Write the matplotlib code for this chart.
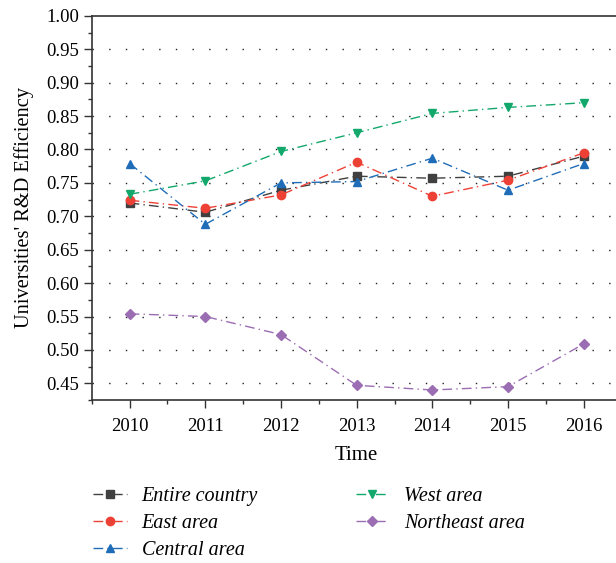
import matplotlib
matplotlib.use("Agg")
import matplotlib.pyplot as plt
from matplotlib.ticker import MultipleLocator

years = [2010, 2011, 2012, 2013, 2014, 2015, 2016]
entire = [0.720, 0.706, 0.739, 0.760, 0.757, 0.760, 0.790]
east = [0.724, 0.712, 0.732, 0.781, 0.730, 0.754, 0.795]
central = [0.779, 0.688, 0.750, 0.752, 0.787, 0.739, 0.779]
west = [0.733, 0.753, 0.797, 0.825, 0.854, 0.863, 0.870]
northeast = [0.554, 0.550, 0.523, 0.447, 0.440, 0.445, 0.509]
yticks = [0.45, 0.50, 0.55, 0.60, 0.65, 0.70, 0.75, 0.80, 0.85, 0.90, 0.95, 1.00]

series = [
    ("Entire country", entire, "#404040", "s"),
    ("East area", east, "#EE4136", "o"),
    ("Central area", central, "#1F6DB8", "^"),
    ("West area", west, "#13A86B", "v"),
    ("Northeast area", northeast, "#9B6DB3", "D"),
]

plt.rcParams['font.family'] = ['Liberation Serif', 'DejaVu Serif']

fig = plt.figure(figsize=(6.16, 5.63), dpi=100)
ax = fig.add_axes([0.149, 0.2895, 0.860, 0.6823])

for name, vals, col, mk in series:
    ax.plot(years, vals, color=col, marker=mk, markersize=6 if mk != "D" else 5,
            linewidth=1.0, linestyle=(0, (7, 3, 1, 3)), label=name)

ax.set_xlim(2009.5, 2016.5)
ax.set_ylim(0.425, 1.00)
ax.xaxis.set_major_locator(MultipleLocator(1))
ax.xaxis.set_minor_locator(MultipleLocator(0.5))
ax.yaxis.set_minor_locator(MultipleLocator(0.025))
ax.set_yticks(yticks)
ax.set_yticklabels([f"{v:.2f}" for v in yticks])
ax.tick_params(axis='both', which='major', direction='out', length=6, width=1,
               labelsize=13.5, color='#333333')
ax.tick_params(axis='both', which='minor', direction='out', length=3, width=1, color='#333333')
ax.tick_params(axis='x', pad=7)
ax.tick_params(axis='y', pad=3)

ax.spines['right'].set_visible(False)
for s in ['left', 'top', 'bottom']:
    ax.spines[s].set_color('#333333')
    ax.spines[s].set_linewidth(1.2)

for v in yticks[:-1]:
    ax.axhline(v, color='#222222', linewidth=1.0, linestyle=(0, (1, 11)), zorder=0)

ax.set_xlabel("Time", fontsize=15, labelpad=8)
ax.set_ylabel("Universities' R&D Efficiency", fontsize=14.7, labelpad=9)

fig.legend(loc='upper left', bbox_to_anchor=(0.122, 0.167), ncol=2, frameon=False,
           prop={'style': 'italic', 'size': 14.5}, handlelength=1.65,
           columnspacing=4.85, labelspacing=0.38, handletextpad=0.75)

fig.savefig("out.png", dpi=100)
